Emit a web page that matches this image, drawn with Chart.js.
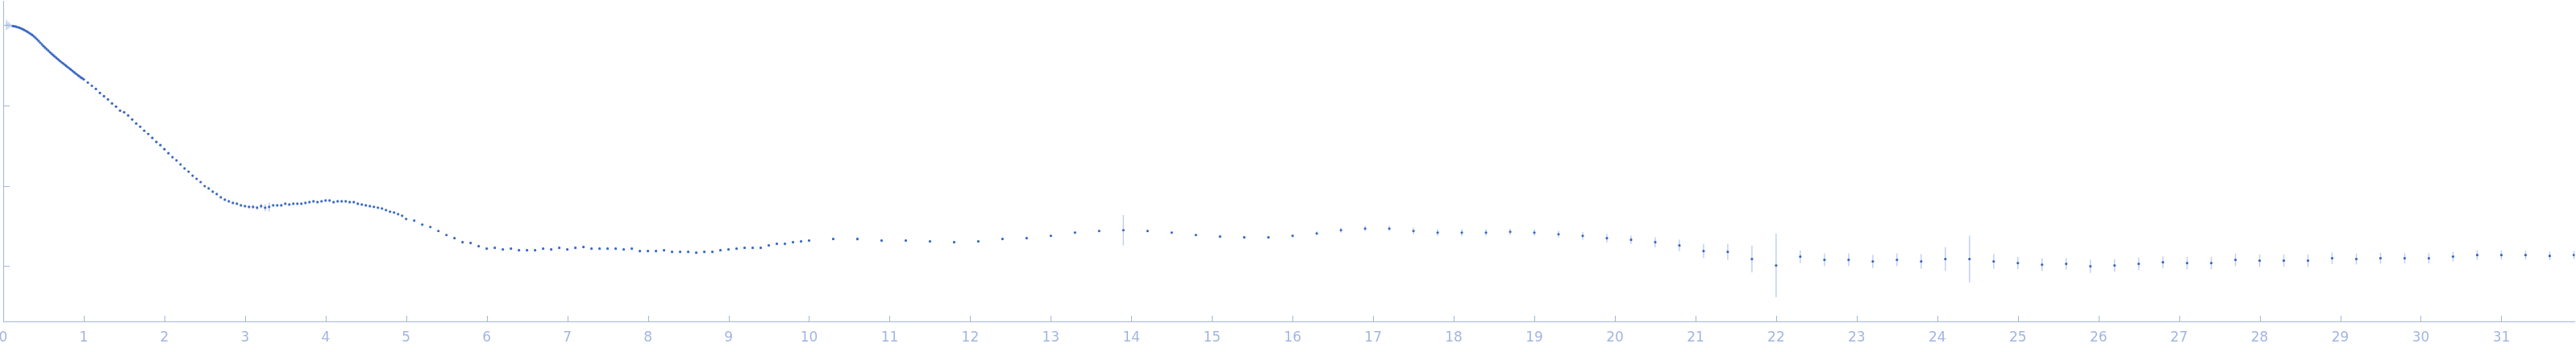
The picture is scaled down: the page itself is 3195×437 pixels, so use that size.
<!DOCTYPE html>
<html>
<head>
<meta charset="utf-8">
<script src="https://cdn.jsdelivr.net/npm/chart.js@4.4.1/dist/chart.umd.min.js"></script>
<style>
    body { margin: 0; background: #ffffff; }
    #wrap { width: 3195px; height: 437px; }
</style>
</head>
<body>
<div id="wrap"><canvas id="curveChart" width="3195" height="437"></canvas></div>
<script>
// scattering curve, y is log10(I)
// dense part at low s
const sDense = [0.04, 0.06, 0.08, 0.10, 0.12, 0.14, 0.16, 0.18, 0.20, 0.22, 0.24, 0.26, 0.28, 0.30, 0.32, 0.34,
    0.36, 0.38, 0.40, 0.42, 0.44, 0.46, 0.48, 0.50, 0.52, 0.54, 0.56, 0.58, 0.60, 0.62, 0.64, 0.66, 0.68, 0.70,
    0.72, 0.74, 0.76, 0.78, 0.80, 0.82, 0.84, 0.86, 0.88, 0.90, 0.92, 0.94, 0.96, 0.98];
const logIDense = [0.004, 0.002, 0.000, -0.003, -0.008, -0.012, -0.017, -0.023, -0.030, -0.038, -0.047, -0.057,
    -0.068, -0.080, -0.093, -0.106, -0.120, -0.136, -0.155, -0.174, -0.195, -0.216, -0.237, -0.258, -0.278,
    -0.297, -0.316, -0.335, -0.353, -0.371, -0.389, -0.406, -0.423, -0.440, -0.457, -0.473, -0.488, -0.504,
    -0.520, -0.536, -0.552, -0.568, -0.584, -0.600, -0.616, -0.632, -0.647, -0.660];
const errDense = [0.06, 0.045, 0.03, 0.015];

const sMid = [1.00, 1.05, 1.10, 1.15, 1.20, 1.25, 1.30, 1.35, 1.40, 1.45, 1.50, 1.55, 1.60, 1.65, 1.70, 1.75,
    1.80, 1.85, 1.90, 1.95, 2.00, 2.05, 2.10, 2.15, 2.20, 2.25, 2.30, 2.35, 2.40, 2.45, 2.50, 2.55, 2.60, 2.65,
    2.70, 2.75, 2.80, 2.85, 2.90, 2.95, 3.00, 3.05, 3.10, 3.15, 3.20, 3.25, 3.30, 3.35, 3.40, 3.45, 3.50, 3.55,
    3.60, 3.65, 3.70, 3.75, 3.80, 3.85, 3.90, 3.95, 4.00, 4.05, 4.10, 4.15, 4.20, 4.25, 4.30, 4.35, 4.40, 4.45,
    4.50, 4.55, 4.60, 4.65, 4.70, 4.75, 4.80, 4.85, 4.90, 4.95, 5.00];
const logIMid = [-0.673, -0.713, -0.753, -0.793, -0.843, -0.883, -0.923, -0.973, -1.013, -1.063, -1.083, -1.123,
    -1.173, -1.223, -1.263, -1.313, -1.353, -1.403, -1.453, -1.493, -1.543, -1.593, -1.643, -1.683, -1.733,
    -1.783, -1.823, -1.873, -1.913, -1.953, -2.003, -2.033, -2.073, -2.103, -2.143, -2.173, -2.193, -2.213,
    -2.223, -2.243, -2.253, -2.263, -2.263, -2.273, -2.253, -2.273, -2.263, -2.243, -2.243, -2.243, -2.223,
    -2.233, -2.223, -2.223, -2.223, -2.213, -2.203, -2.193, -2.203, -2.193, -2.183, -2.183, -2.203, -2.193,
    -2.193, -2.193, -2.203, -2.203, -2.223, -2.233, -2.243, -2.253, -2.263, -2.273, -2.283, -2.303, -2.323,
    -2.333, -2.353, -2.373, -2.413];
const errMid = [0, 0, 0, 0, 0, 0, 0, 0, 0, 0, 0, 0, 0, 0, 0, 0, 0, 0, 0, 0, 0, 0, 0, 0, 0, 0, 0, 0, 0, 0, 0, 0,
    0, 0, 0, 0, 0, 0, 0, 0, 0.01, 0.02, 0.025, 0.025, 0.03, 0.043, 0.057];

const sHigh = [5.1, 5.2, 5.3, 5.4, 5.5, 5.6, 5.7, 5.8, 5.9, 6.0, 6.1, 6.2, 6.3, 6.4, 6.5, 6.6, 6.7, 6.8, 6.9, 7.0,
    7.1, 7.2, 7.3, 7.4, 7.5, 7.6, 7.7, 7.8, 7.9, 8.0, 8.1, 8.2, 8.3, 8.4, 8.5, 8.6, 8.7, 8.8, 8.9, 9.0,
    9.1, 9.2, 9.3, 9.4, 9.5, 9.6, 9.7, 9.8, 9.9, 10.0];
const logIHigh = [-2.433, -2.483, -2.513, -2.563, -2.613, -2.653, -2.703, -2.713, -2.753, -2.783, -2.773, -2.793,
    -2.783, -2.803, -2.803, -2.803, -2.783, -2.793, -2.773, -2.793, -2.773, -2.763, -2.783, -2.783, -2.783,
    -2.783, -2.793, -2.783, -2.813, -2.813, -2.813, -2.803, -2.823, -2.823, -2.823, -2.833, -2.823, -2.823,
    -2.803, -2.793, -2.783, -2.773, -2.773, -2.773, -2.743, -2.723, -2.723, -2.703, -2.693, -2.683];

const sTail = [10.3, 10.6, 10.9, 11.2, 11.5, 11.8, 12.1, 12.4, 12.7, 13.0, 13.3, 13.6, 13.9, 14.2, 14.5, 14.8,
    15.1, 15.4, 15.7, 16.0, 16.3, 16.6, 16.9, 17.2, 17.5, 17.8, 18.1, 18.4, 18.7, 19.0, 19.3, 19.6, 19.9, 20.2,
    20.5, 20.8, 21.1, 21.4, 21.7, 22.0, 22.3, 22.6, 22.9, 23.2, 23.5, 23.8, 24.1, 24.4, 24.7, 25.0, 25.3, 25.6,
    25.9, 26.2, 26.5, 26.8, 27.1, 27.4, 27.7, 28.0, 28.3, 28.6, 28.9, 29.2, 29.5, 29.8, 30.1, 30.4, 30.7, 31.0,
    31.3, 31.6, 31.9];
const logITail = [-2.663, -2.663, -2.683, -2.683, -2.693, -2.703, -2.693, -2.663, -2.653, -2.623, -2.583, -2.563,
    -2.553, -2.563, -2.583, -2.613, -2.633, -2.643, -2.643, -2.623, -2.593, -2.553, -2.533, -2.533, -2.563,
    -2.583, -2.583, -2.583, -2.573, -2.583, -2.603, -2.623, -2.653, -2.673, -2.703, -2.743, -2.813, -2.823,
    -2.913, -2.993, -2.883, -2.923, -2.923, -2.943, -2.923, -2.943, -2.913, -2.913, -2.943, -2.963, -2.983,
    -2.973, -3.003, -2.993, -2.973, -2.953, -2.963, -2.963, -2.923, -2.933, -2.933, -2.933, -2.903, -2.913,
    -2.903, -2.903, -2.903, -2.883, -2.863, -2.863, -2.863, -2.873, -2.863];
const errTail = [0.01, 0.02, 0.01, 0.01, 0.01, 0.01, 0.01, 0.012, 0.015, 0.015, 0.015, 0.015, 0.19, 0.015, 0.015,
    0.015, 0.015, 0.015, 0.015, 0.02, 0.025, 0.033, 0.033, 0.033, 0.04, 0.043, 0.043, 0.043, 0.04, 0.043, 0.043,
    0.047, 0.053, 0.053, 0.063, 0.072, 0.09, 0.1, 0.167, 0.397, 0.078, 0.078, 0.078, 0.082, 0.078, 0.092, 0.148,
    0.292, 0.092, 0.077, 0.08, 0.072, 0.083, 0.078, 0.078, 0.073, 0.078, 0.078, 0.078, 0.077, 0.078, 0.078,
    0.073, 0.068, 0.068, 0.063, 0.063, 0.062, 0.06, 0.058, 0.055, 0.053, 0.05];

// tick values on the y axis (decades, no labels shown)
const yTickValues = [-3, -2, -1, 0];

const axisColor = '#a3b6e0';
const dotColor = '#3a68c2';
const errColor = 'rgba(160, 185, 232, 0.65)';
const fadedColor = '#c3d1ef';

function toPoints(s, logI, err) {
    return s.map(function(v, i) {
        return { x: v, y: logI[i], e: err && err[i] ? err[i] : 0 };
    });
}

// vertical error bars, drawn under the dots
const errorBars = {
    id: 'errorBars',
    beforeDatasetsDraw(chart) {
        const ctx = chart.ctx;
        const x = chart.scales.x, y = chart.scales.y;
        ctx.save();
        ctx.strokeStyle = errColor;
        ctx.lineWidth = 1.5;
        chart.data.datasets.forEach(function(ds) {
            ds.data.forEach(function(p) {
                if (!p.e) return;
                const px = x.getPixelForValue(p.x);
                ctx.beginPath();
                ctx.moveTo(px, y.getPixelForValue(p.y + p.e));
                ctx.lineTo(px, y.getPixelForValue(p.y - p.e));
                ctx.stroke();
            });
        });
        ctx.restore();
    }
};

// tick marks point inside the plot
const innerTicks = {
    id: 'innerTicks',
    afterDraw(chart) {
        const ctx = chart.ctx, a = chart.chartArea;
        const x = chart.scales.x, y = chart.scales.y;
        ctx.save();
        ctx.strokeStyle = axisColor;
        ctx.lineWidth = 1;
        ctx.beginPath();
        x.ticks.forEach(function(t) {
            if (t.value === 0) return;
            const px = Math.round(x.getPixelForValue(t.value)) + 0.5;
            ctx.moveTo(px, a.bottom);
            ctx.lineTo(px, a.bottom - 7);
        });
        yTickValues.forEach(function(v) {
            const py = Math.round(y.getPixelForValue(v)) + 0.5;
            ctx.moveTo(a.left, py);
            ctx.lineTo(a.left + 8, py);
        });
        ctx.stroke();
        ctx.restore();
    }
};

const pointStyle = {
    showLine: false,
    pointRadius: 1.6,
    pointBorderWidth: 0,
    pointBackgroundColor: dotColor,
    pointHoverRadius: 1.6
};

var ctx = document.getElementById('curveChart').getContext('2d');
var curveChart = new Chart(ctx, {
    type: 'scatter',
    data: {
        datasets: [
            Object.assign({ data: toPoints(sDense, logIDense, errDense) }, pointStyle, {
                pointRadius: 1.6,
                pointBackgroundColor: function(c) { return c.dataIndex < 4 ? fadedColor : dotColor; }
            }),
            Object.assign({ data: toPoints(sMid, logIMid, errMid) }, pointStyle),
            Object.assign({ data: toPoints(sHigh, logIHigh) }, pointStyle),
            Object.assign({ data: toPoints(sTail, logITail, errTail) }, pointStyle)
        ]
    },
    options: {
        responsive: false,
        animation: false,
        devicePixelRatio: 1,
        layout: { padding: 0 },
        plugins: {
            legend: { display: false },
            tooltip: { enabled: false }
        },
        scales: {
            x: {
                type: 'linear',
                position: 'bottom',
                min: 0,
                max: 31.91,
                grid: { display: false, drawTicks: false },
                border: { display: true, color: axisColor, width: 1 },
                ticks: {
                    stepSize: 1,
                    autoSkip: false,
                    maxRotation: 0,
                    padding: 10,
                    color: axisColor,
                    font: { family: 'DejaVu Sans', size: 17 }
                },
                afterBuildTicks: function(scale) {
                    scale.ticks = scale.ticks.filter(function(t) { return Number.isInteger(t.value); });
                },
                afterFit: function(scale) {
                    scale.height = 38;
                    // let the "0" label hang over the left edge like the original
                    scale.paddingLeft = 0;
                    scale.paddingRight = 0;
                }
            },
            y: {
                type: 'linear',
                min: -3.69,
                max: 0.3,
                grid: { display: false, drawTicks: false },
                border: { display: true, color: axisColor, width: 1 },
                ticks: { display: false },
                afterBuildTicks: function(scale) {
                    scale.ticks = yTickValues.map(function(v) { return { value: v }; });
                },
                afterFit: function(scale) {
                    scale.width = 4;
                    scale.paddingTop = 0;
                    scale.paddingBottom = 0;
                }
            }
        }
    },
    plugins: [errorBars, innerTicks]
});
</script>
</body>
</html>
